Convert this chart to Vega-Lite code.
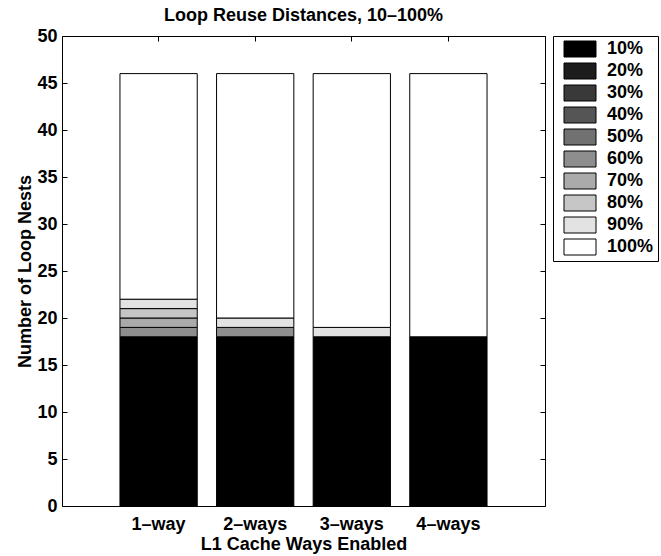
{
  "$schema": "https://vega.github.io/schema/vega-lite/v6.json",
  "autosize": "none",
  "width": 483,
  "height": 470,
  "padding": {"left": 62, "top": 36, "right": 116, "bottom": 50},
  "background": "white",
  "config": {
    "font": "Liberation Sans",
    "view": {"stroke": "black", "strokeWidth": 1},
    "axis": {
      "labelFont": "Liberation Sans",
      "labelFontSize": 18,
      "labelFontWeight": "bold",
      "labelColor": "black",
      "titleFont": "Liberation Sans",
      "titleFontSize": 18,
      "titleFontWeight": "bold",
      "titleColor": "black",
      "tickColor": "black",
      "tickSize": -5,
      "domain": false,
      "grid": false
    }
  },
  "title": {
    "text": "Loop Reuse Distances, 10–100%",
    "font": "Liberation Sans",
    "fontSize": 18,
    "fontWeight": "bold",
    "color": "black",
    "anchor": "middle",
    "frame": "group",
    "baseline": "alphabetic",
    "offset": 13,
    "dy": 25
  },
  "data": {
    "values": [
      {"way": "1–way", "dist": "10%", "level": 10, "count": 18},
      {"way": "1–way", "dist": "60%", "level": 60, "count": 1},
      {"way": "1–way", "dist": "70%", "level": 70, "count": 1},
      {"way": "1–way", "dist": "80%", "level": 80, "count": 1},
      {"way": "1–way", "dist": "90%", "level": 90, "count": 1},
      {"way": "1–way", "dist": "100%", "level": 100, "count": 24},
      {"way": "2–ways", "dist": "10%", "level": 10, "count": 18},
      {"way": "2–ways", "dist": "60%", "level": 60, "count": 1},
      {"way": "2–ways", "dist": "90%", "level": 90, "count": 1},
      {"way": "2–ways", "dist": "100%", "level": 100, "count": 26},
      {"way": "3–ways", "dist": "10%", "level": 10, "count": 18},
      {"way": "3–ways", "dist": "90%", "level": 90, "count": 1},
      {"way": "3–ways", "dist": "100%", "level": 100, "count": 27},
      {"way": "4–ways", "dist": "10%", "level": 10, "count": 18},
      {"way": "4–ways", "dist": "100%", "level": 100, "count": 28}
    ]
  },
  "resolve": {"axis": {"x": "independent", "y": "independent"}},
  "layer": [
    {
      "mark": {"type": "bar", "stroke": "black", "strokeWidth": 1},
      "encoding": {
        "x": {
          "field": "way",
          "type": "nominal",
          "sort": ["1–way", "2–ways", "3–ways", "4–ways"],
          "scale": {"paddingInner": 0.2, "paddingOuter": 0.6},
          "axis": {"orient": "bottom", "labelAngle": 0, "labelPadding": 14, "title": "L1 Cache Ways Enabled", "titlePadding": 2}
        },
        "y": {
          "field": "count",
          "type": "quantitative",
          "stack": "zero",
          "scale": {"domain": [0, 50], "nice": false},
          "axis": {"orient": "left", "values": [0, 5, 10, 15, 20, 25, 30, 35, 40, 45, 50], "labelPadding": 10, "title": "Number of Loop Nests", "titlePadding": 2}
        },
        "color": {
          "field": "dist",
          "type": "nominal",
          "scale": {
            "domain": ["10%", "20%", "30%", "40%", "50%", "60%", "70%", "80%", "90%", "100%"],
            "range": ["#000000", "#1c1c1c", "#393939", "#555555", "#717171", "#8e8e8e", "#aaaaaa", "#c6c6c6", "#e3e3e3", "#ffffff"]
          },
          "legend": {
            "orient": "none",
            "legendX": 491,
            "legendY": 0,
            "title": null,
            "strokeColor": "black",
            "fillColor": "white",
            "padding": 4,
            "symbolType": "M-2,-1H2V1H-2Z",
            "symbolSize": 256,
            "symbolStrokeColor": "black",
            "symbolStrokeWidth": 1,
            "symbolOffset": 14,
            "labelOffset": 18,
            "labelFont": "Liberation Sans",
            "labelFontSize": 18,
            "labelFontWeight": "bold",
            "labelColor": "black",
            "rowPadding": 2
          }
        },
        "order": {"field": "level", "type": "quantitative", "sort": "ascending"}
      }
    },
    {
      "mark": {"type": "point", "opacity": 0},
      "encoding": {
        "x": {
          "field": "way",
          "type": "nominal",
          "sort": ["1–way", "2–ways", "3–ways", "4–ways"],
          "axis": {"orient": "top", "labels": false, "title": null}
        },
        "y": {
          "field": "count",
          "type": "quantitative",
          "axis": {"orient": "right", "labels": false, "title": null, "values": [0, 5, 10, 15, 20, 25, 30, 35, 40, 45, 50]}
        }
      }
    }
  ]
}
